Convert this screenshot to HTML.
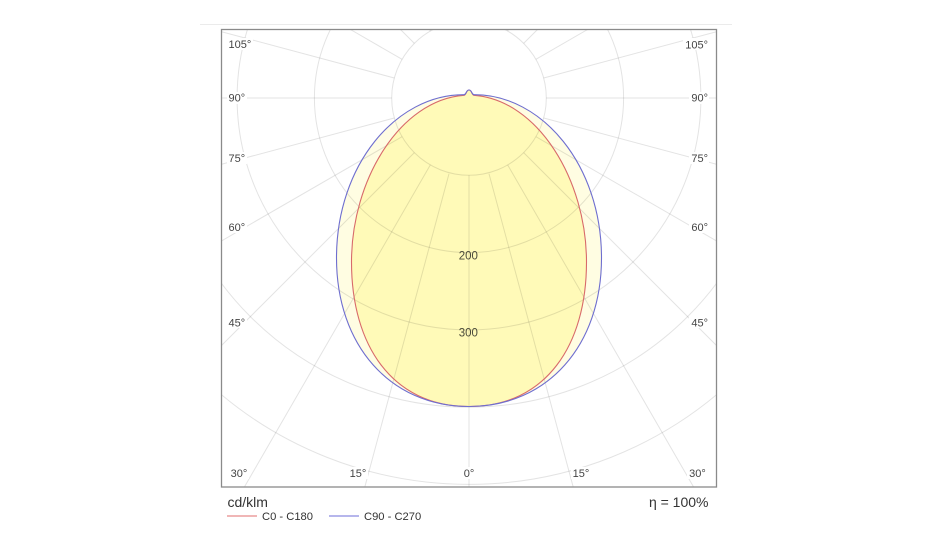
<!DOCTYPE html>
<html>
<head>
<meta charset="utf-8">
<style>
  html, body { margin: 0; padding: 0; background: #ffffff; }
  body { width: 933px; height: 560px; overflow: hidden; }
  svg { display: block; overflow: hidden; }
  text { font-family: "Liberation Sans", Arial, sans-serif; }
</style>
</head>
<body>
<svg width="933" height="560" viewBox="0 0 933 560" xmlns="http://www.w3.org/2000/svg">
  <defs>
    <clipPath id="frameClip">
      <rect x="221.5" y="29.5" width="495" height="457.5"/>
    </clipPath>
  </defs>

  <!-- faint top separator -->
  <line x1="200" y1="24.5" x2="732" y2="24.5" stroke="#ebebeb" stroke-width="1"/>

  <g clip-path="url(#frameClip)">
    <!-- fills -->
    <path d="M336.5,258 C336.5,165 396,94.5 464,94.7 C466.5,94.5 466,90 469,90 C472,90 471.5,94.5 474,94.7 C542,94.5 601.5,165 601.5,258 C601.5,345 548,406.5 469,406.5 C390,406.5 336.5,345 336.5,258 Z" fill="#FFFDE2"/>
    <path d="M351.5,262 C351.5,180 400,100 464,95.3 C466.5,95 466,90 469,90 C472,90 471.5,95 474,95.3 C538,100 586.5,180 586.5,262 C586.5,345 546,406.5 469,406.5 C392,406.5 351.5,345 351.5,262 Z" fill="#FFFAB8"/>

    <!-- grid -->
    <g fill="none" stroke="rgba(0,0,0,0.11)" stroke-width="1">
      <circle cx="469" cy="98" r="77.3"/>
      <circle cx="469" cy="98" r="154.6"/>
      <circle cx="469" cy="98" r="231.9"/>
      <circle cx="469" cy="98" r="309.2"/>
      <path d="M82.5,98 A386.5,386.5 0 0 0 855.5,98 A386.5,386.5 0 0 0 82.5,98"/>
      <path d="M469,175.3L469,487
        M489,173.7L573.2,487 M449,173.7L364.8,487
        M507.65,164.9L693.6,487 M430.35,164.9L244.4,487
        M523.66,152.66L716.5,345.5 M414.34,152.66L221.5,345.5
        M535.9,136.65L716.5,240.9 M402.1,136.65L221.5,240.9
        M543.7,118L716.5,164.3 M394.3,118L221.5,164.3
        M546.3,98L716.5,98 M391.7,98L221.5,98
        M543.7,78L716.5,31.7 M394.3,78L221.5,31.7
        M535.9,59.35L587.6,29.5 M402.1,59.35L350.4,29.5
        M523.66,43.34L537.5,29.5 M414.34,43.34L400.5,29.5
        M507.65,31.1L508.5,29.5 M430.35,31.1L429.5,29.5"/>
    </g>

    <!-- curves -->
    <path d="M351.5,262 C351.5,180 400,100 464,95.3 C466.5,95 466,90 469,90 C472,90 471.5,95 474,95.3 C538,100 586.5,180 586.5,262 C586.5,345 546,406.5 469,406.5 C392,406.5 351.5,345 351.5,262 Z" fill="none" stroke="#D86A6A" stroke-width="1.1"/>
    <path d="M336.5,258 C336.5,165 396,94.5 464,94.7 C466.5,94.5 466,90 469,90 C472,90 471.5,94.5 474,94.7 C542,94.5 601.5,165 601.5,258 C601.5,345 548,406.5 469,406.5 C390,406.5 336.5,345 336.5,258 Z" fill="none" stroke="#6E6ECF" stroke-width="1.1"/>

    <!-- ring labels -->
    <text x="468.3" y="259.3" font-size="11.5" fill="#4a4a3a" text-anchor="middle">200</text>
    <text x="468.3" y="336.7" font-size="11.5" fill="#4a4a3a" text-anchor="middle">300</text>
  </g>

  <!-- angle label backgrounds -->
  <g fill="#ffffff">
    <rect x="227" y="38" width="26" height="12"/>
    <rect x="227" y="92" width="20" height="12"/>
    <rect x="227" y="152" width="20" height="12"/>
    <rect x="227" y="221" width="20" height="12"/>
    <rect x="227" y="316" width="20" height="12"/>
    <rect x="683" y="38" width="26" height="12"/>
    <rect x="689" y="92" width="20" height="12"/>
    <rect x="689" y="152" width="20" height="12"/>
    <rect x="689" y="221" width="20" height="12"/>
    <rect x="689" y="316" width="20" height="12"/>
    <rect x="229" y="467" width="20" height="12"/>
    <rect x="348" y="467" width="20" height="12"/>
    <rect x="462" y="467" width="14" height="12"/>
    <rect x="571" y="467" width="20" height="12"/>
    <rect x="687" y="467" width="20" height="12"/>
  </g>

  <!-- angle labels -->
  <g font-size="11" fill="#444">
    <text x="228.5" y="48">105°</text>
    <text x="228.5" y="101.5">90°</text>
    <text x="228.5" y="162">75°</text>
    <text x="228.5" y="231">60°</text>
    <text x="228.5" y="326.5">45°</text>
    <text x="708" y="48.5" text-anchor="end">105°</text>
    <text x="708" y="101.5" text-anchor="end">90°</text>
    <text x="708" y="162" text-anchor="end">75°</text>
    <text x="708" y="231" text-anchor="end">60°</text>
    <text x="708" y="326.5" text-anchor="end">45°</text>
    <text x="239" y="477" text-anchor="middle">30°</text>
    <text x="358" y="477" text-anchor="middle">15°</text>
    <text x="469" y="477" text-anchor="middle">0°</text>
    <text x="581" y="477" text-anchor="middle">15°</text>
    <text x="697.5" y="477" text-anchor="middle">30°</text>
  </g>

  <!-- frame -->
  <rect x="221.5" y="29.5" width="495" height="457.5" fill="none" stroke="#8a8a8a" stroke-width="1.3"/>

  <!-- footer -->
  <text x="227.5" y="507" font-size="14" fill="#333">cd/klm</text>
  <text x="708.5" y="507" font-size="14" fill="#333" text-anchor="end">η = 100%</text>

  <line x1="227" y1="516" x2="257" y2="516" stroke="#E88A8A" stroke-width="1.2"/>
  <text x="262" y="520" font-size="11.2" fill="#333">C0 - C180</text>
  <line x1="329" y1="516" x2="359" y2="516" stroke="#8A8AE0" stroke-width="1.2"/>
  <text x="364" y="520" font-size="11.2" fill="#333">C90 - C270</text>
</svg>
</body>
</html>
